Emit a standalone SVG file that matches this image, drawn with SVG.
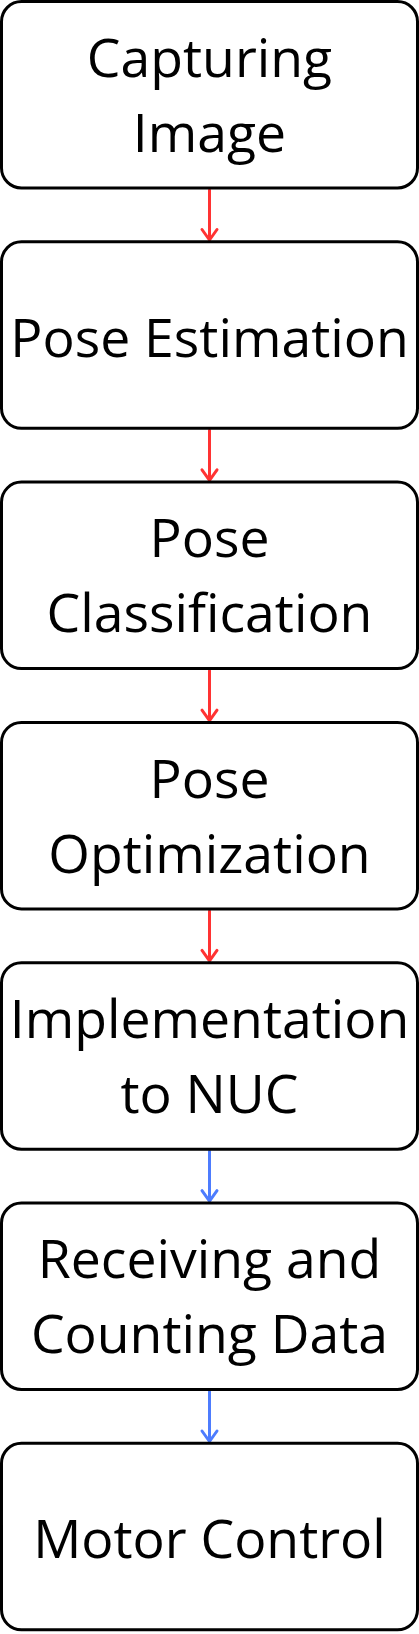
<svg xmlns="http://www.w3.org/2000/svg" width="419" height="1634" viewBox="0 0 419 1634">
<style>
.box{fill:#fff;stroke:#000;stroke-width:3}
.lbl{font-family:"Open Sans","Liberation Sans",sans-serif;font-size:53.5px;fill:#000;text-anchor:middle}
.red{stroke:#FF3333;stroke-width:3;fill:none;stroke-linecap:round;stroke-linejoin:round}
.blue{stroke:#4D7CFE;stroke-width:3;fill:none;stroke-linecap:round;stroke-linejoin:round}
</style>
<rect width="419" height="1634" fill="#fff"/>
<g id="connectors">
<path class="red" d="M209.5 190V240M202 229.5L209.5 240L217 229.5"/>
<path class="red" d="M209.5 430.3V480.3M202 469.8L209.5 480.3L217 469.8"/>
<path class="red" d="M209.5 670.6V720.6M202 710.1L209.5 720.6L217 710.1"/>
<path class="red" d="M209.5 910.9V960.9M202 950.4L209.5 960.9L217 950.4"/>
<path class="blue" d="M209.5 1151.2V1201.2M202 1190.7L209.5 1201.2L217 1190.7"/>
<path class="blue" d="M209.5 1391.5V1441.5M202 1431L209.5 1441.5L217 1431"/>
</g>
<g id="n1"><rect class="box" x="1.5" y="1.5" width="416" height="186.5" rx="20"/>
<text class="lbl" x="209.5" y="76.75">Capturing</text><text class="lbl" x="209.5" y="151.75">Image</text></g>
<g id="n2"><rect class="box" x="1.5" y="241.8" width="416" height="186.5" rx="20"/>
<text class="lbl" x="209.5" y="356.8">Pose Estimation</text></g>
<g id="n3"><rect class="box" x="1.5" y="482.1" width="416" height="186.5" rx="20"/>
<text class="lbl" x="209.5" y="557.35">Pose</text><text class="lbl" x="209.5" y="632.35">Classification</text></g>
<g id="n4"><rect class="box" x="1.5" y="722.4" width="416" height="186.5" rx="20"/>
<text class="lbl" x="209.5" y="797.65">Pose</text><text class="lbl" x="209.5" y="872.65">Optimization</text></g>
<g id="n5"><rect class="box" x="1.5" y="962.7" width="416" height="186.5" rx="20"/>
<text class="lbl" x="209.5" y="1037.95">Implementation</text><text class="lbl" x="209.5" y="1112.95">to NUC</text></g>
<g id="n6"><rect class="box" x="1.5" y="1203" width="416" height="186.5" rx="20"/>
<text class="lbl" x="209.5" y="1278.25">Receiving and</text><text class="lbl" x="209.5" y="1353.25">Counting Data</text></g>
<g id="n7"><rect class="box" x="1.5" y="1443.3" width="416" height="186.5" rx="20"/>
<text class="lbl" x="209.5" y="1558.3">Motor Control</text></g>
</svg>
